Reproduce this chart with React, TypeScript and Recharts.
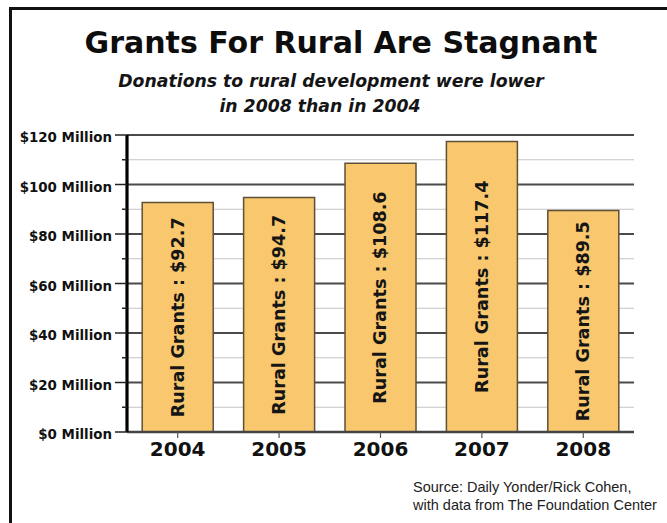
import { BarChart, Bar, XAxis, YAxis, CartesianGrid, LabelList } from "recharts";

// Rural grants by year, millions of dollars
const years = ["2004", "2005", "2006", "2007", "2008"];
const grants = [92.7, 94.7, 108.6, 117.4, 89.5];

const yTicks = [0, 10, 20, 30, 40, 50, 60, 70, 80, 90, 100, 110, 120];
const majorLines = [20, 40, 60, 80, 100, 120];
const minorLines = [10, 30, 50, 70, 90, 110];

const title = "Grants For Rural Are Stagnant";
const subtitle = ["Donations to rural development were lower", "in 2008 than in 2004"];
const source = ["Source: Daily Yonder/Rick Cohen,", "with data from The Foundation Center"];

const data = years.map((year, i) => ({ year, grants: grants[i] }));

const BOLD = "'DejaVu Sans', sans-serif";

function YTick({ x, y, payload }: any) {
  const major = payload.value % 20 === 0;
  return (
    <g>
      <line x1={major ? x + 3 : x + 10} x2={x + 15} y1={y} y2={y} stroke="#222" strokeWidth={1.5} />
      {major && (
        <text x={x} y={y} dy="0.55em" textAnchor="end" fontFamily={BOLD} fontWeight="bold" fontSize={13.4} fill="#111">
          {`$${payload.value} Million`}
        </text>
      )}
    </g>
  );
}

function XTick({ x, y, payload }: any) {
  return (
    <text x={x} y={y} dy={16} textAnchor="middle" fontFamily={BOLD} fontWeight="bold" fontSize={20} fill="#111">
      {payload.value}
    </text>
  );
}

function BarText({ x, y, width, height, value }: any) {
  const cx = x + width / 2;
  const cy = y + height / 2;
  return (
    <text
      x={cx}
      y={cy}
      transform={`rotate(-90 ${cx} ${cy})`}
      textAnchor="middle"
      dominantBaseline="central"
      fontFamily={BOLD}
      fontWeight="bold"
      fontSize={17.6}
      fill="#151515"
    >
      {`Rural Grants : $${value}`}
    </text>
  );
}

export default function App() {
  return (
    <div style={{ position: "fixed", left: 0, top: 0, width: 667, height: 523, background: "#fff" }}>
      <BarChart
        width={667}
        height={523}
        data={data}
        margin={{ top: 135, right: 33, bottom: 51, left: 0 }}
        barCategoryGap="15%"
      >
        <CartesianGrid vertical={false} horizontalValues={minorLines} stroke="#c4c4c4" strokeWidth={1.2} />
        <CartesianGrid vertical={false} horizontalValues={majorLines} stroke="#4a4a4a" strokeWidth={1.8} />
        <XAxis
          dataKey="year"
          height={40}
          axisLine={{ stroke: "#444", strokeWidth: 2.5 }}
          tickLine={{ stroke: "#555", strokeWidth: 1.2 }}
          tickSize={6}
          tickMargin={2}
          tick={<XTick />}
          interval={0}
        />
        <YAxis
          width={127}
          domain={[0, 120]}
          ticks={yTicks}
          interval={0}
          axisLine={{ stroke: "#000", strokeWidth: 3.2 }}
          tickLine={false}
          tickSize={12}
          tickMargin={3}
          tick={<YTick />}
        />
        <Bar dataKey="grants" fill="#f9c86e" stroke="#5e5038" strokeWidth={1.5} isAnimationActive={false}>
          <LabelList dataKey="grants" content={<BarText />} />
        </Bar>
      </BarChart>
      <svg
        width={667}
        height={523}
        style={{ position: "absolute", left: 0, top: 0, pointerEvents: "none" }}
      >
        <rect x={9} y={7} width={658} height={3} fill="#111" />
        <rect x={9} y={7} width={3} height={516} fill="#111" />
        <text x={341} y={53} textAnchor="middle" fontFamily={BOLD} fontWeight="bold" fontSize={30} fill="#0d0d0d">
          {title}
        </text>
        <text x={331} y={87} textAnchor="middle" fontFamily={BOLD} fontWeight="bold" fontStyle="italic" fontSize={17.3} fill="#151515">
          {subtitle[0]}
        </text>
        <text x={320} y={112} textAnchor="middle" fontFamily={BOLD} fontWeight="bold" fontStyle="italic" fontSize={17.3} fill="#151515">
          {subtitle[1]}
        </text>
        <text x={413} y={491.5} fontFamily="'Liberation Sans', Arial, sans-serif" fontSize={14.5} fill="#222">
          {source[0]}
        </text>
        <text x={413} y={510} fontFamily="'Liberation Sans', Arial, sans-serif" fontSize={14.5} fill="#222">
          {source[1]}
        </text>
      </svg>
    </div>
  );
}
